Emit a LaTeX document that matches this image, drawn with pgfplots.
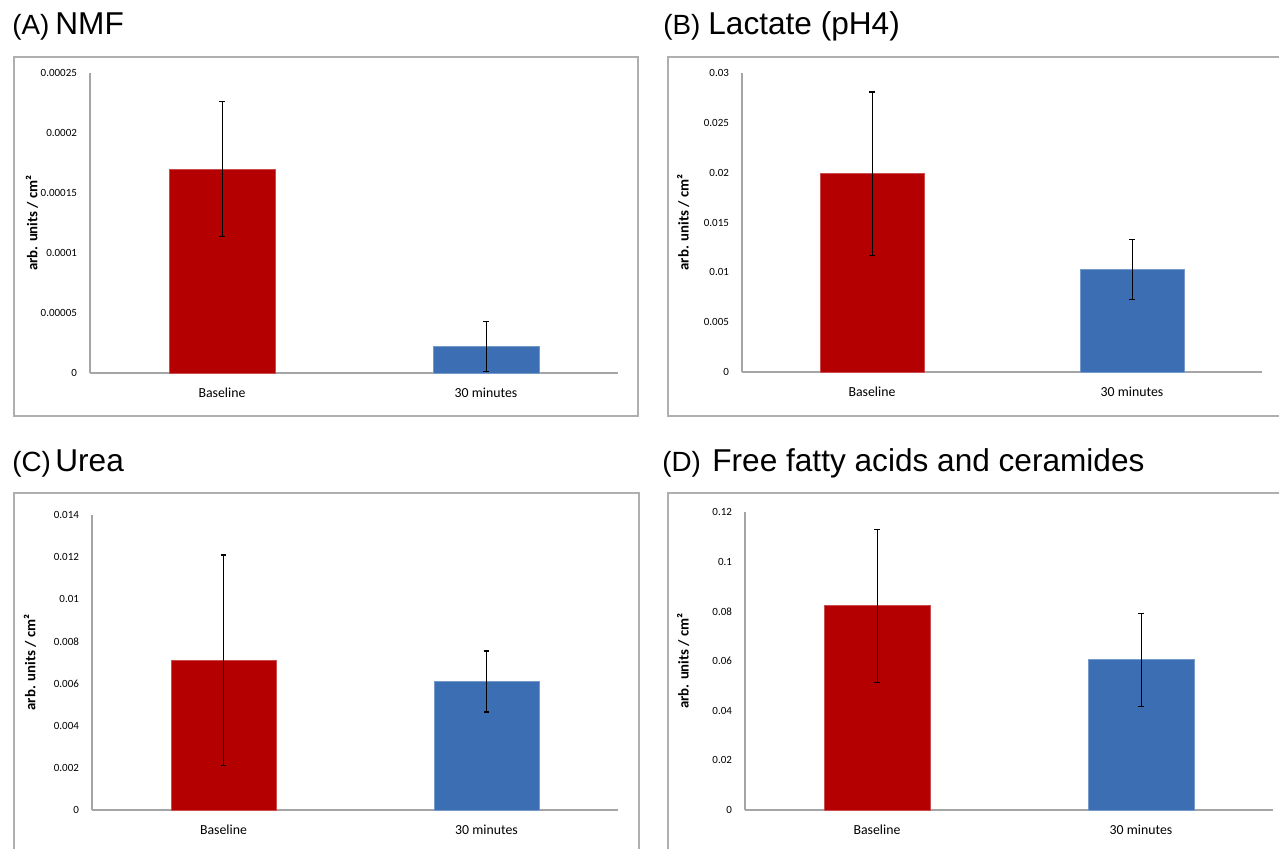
\documentclass[border=0pt]{standalone}
\usepackage{fontspec}
\setmainfont{Carlito}
\newfontfamily\arialfont{Liberation Sans}
\usepackage{pgfplots}
\pgfplotsset{compat=1.18}
\definecolor{barred}{RGB}{180,0,0}
\definecolor{barblue}{RGB}{60,110,180}
\definecolor{framegray}{RGB}{175,175,175}
\definecolor{axisgray}{RGB}{165,165,165}

\pgfplotsset{
  panel/.style={
    scale only axis, xmin=0, xmax=2, ymin=0,
    axis x line=bottom, axis y line=left,
    axis line style={-, axisgray, line width=0.6pt},
    major tick length=0pt,
    scaled y ticks=false,
    xtick={0.5,1.5}, xticklabels={Baseline,30 minutes},
    xticklabel style={font=\fontsize{6.9}{8}\selectfont, yshift=-4pt},
    yticklabel style={font=\fontsize{5.5}{6.5}\selectfont, xshift=-3pt},
    ylabel={\textbf{arb. units / cm²}},
    ylabel style={font=\fontsize{7.4}{8}\selectfont, anchor=center},
    clip=false,
  },
  barplot/.style={ybar, bar width=0.4, bar shift=0pt, fill=#1, draw=#1!70!white, line width=0.3pt,
    error bars/.cd, y dir=both, y explicit,
    error bar style={black, line width=0.5pt},
    error mark=-,
    error mark options={rotate=90, black, mark size=1.3pt, line width=0.6pt}},
}

\begin{document}
\begin{tikzpicture}
\useasboundingbox (0,0) rectangle (639.5pt,424pt);

% frames
\draw[framegray, line width=0.7pt] (7pt,395.5pt) rectangle (319pt,216pt);
\draw[framegray, line width=0.7pt] (334pt,395.5pt) rectangle (645pt,216pt);
\draw[framegray, line width=0.7pt] (7pt,177.5pt) rectangle (319.5pt,-10pt);
\draw[framegray, line width=0.7pt] (334pt,177.5pt) rectangle (645pt,-10pt);

% titles
\node[anchor=base west, inner sep=0] at (6pt,406.5pt) {\arialfont\fontsize{13.9}{16}\selectfont (A)};
\node[anchor=base west, inner sep=0] at (27.5pt,406.5pt) {\arialfont\fontsize{15.8}{18}\selectfont NMF};
\node[anchor=base west, inner sep=0] at (331.5pt,406.5pt) {\arialfont\fontsize{13.9}{16}\selectfont (B)};
\node[anchor=base west, inner sep=0] at (354pt,406.5pt) {\arialfont\fontsize{15.8}{18}\selectfont Lactate (pH4)};
\node[anchor=base west, inner sep=0] at (6pt,188.5pt) {\arialfont\fontsize{13.9}{16}\selectfont (C)};
\node[anchor=base west, inner sep=0] at (27.5pt,188.5pt) {\arialfont\fontsize{15.8}{18}\selectfont Urea};
\node[anchor=base west, inner sep=0] at (331pt,188.5pt) {\arialfont\fontsize{13.9}{16}\selectfont (D)};
\node[anchor=base west, inner sep=0] at (356pt,188.5pt) {\arialfont\fontsize{15.8}{18}\selectfont Free fatty acids and ceramides};

% (A) NMF
\begin{axis}[panel, at={(45pt,237.5pt)}, anchor=origin, width=264pt, height=150pt,
  ymax=0.00025, ytick={0,0.00005,0.0001,0.00015,0.0002,0.00025},
  yticklabels={0,0.00005,0.0001,0.00015,0.0002,0.00025},
  ylabel style={at={(axis description cs:-0.110,0.5)}}]
\addplot[barplot=barred] coordinates {(0.5,0.00017) +- (0,0.000056)};
\addplot[barplot=barblue] coordinates {(1.5,0.000022) +- (0,0.000021)};
\end{axis}

% (B) Lactate
\begin{axis}[panel, at={(371pt,238pt)}, anchor=origin, width=260pt, height=149.5pt,
  ymax=0.03, ytick={0,0.005,0.01,0.015,0.02,0.025,0.03},
  yticklabels={0,0.005,0.01,0.015,0.02,0.025,0.03},
  ylabel style={at={(axis description cs:-0.113,0.5)}}]
\addplot[barplot=barred] coordinates {(0.5,0.0199) +- (0,0.0082)};
\addplot[barplot=barblue] coordinates {(1.5,0.0103) +- (0,0.0030)};
\end{axis}

% (C) Urea
\begin{axis}[panel, at={(46pt,19pt)}, anchor=origin, width=263pt, height=147.5pt,
  ymax=0.014, ytick={0,0.002,0.004,0.006,0.008,0.01,0.012,0.014},
  yticklabels={0,0.002,0.004,0.006,0.008,0.01,0.012,0.014},
  ylabel style={at={(axis description cs:-0.118,0.5)}}]
\addplot[barplot=barred] coordinates {(0.5,0.0071) +- (0,0.0050)};
\addplot[barplot=barblue] coordinates {(1.5,0.0061) +- (0,0.00145)};
\end{axis}

% (D) Free fatty acids and ceramides
\begin{axis}[panel, at={(372.5pt,19pt)}, anchor=origin, width=264pt, height=149pt,
  ymax=0.12, ytick={0,0.02,0.04,0.06,0.08,0.1,0.12},
  yticklabels={0,0.02,0.04,0.06,0.08,0.1,0.12},
  ylabel style={at={(axis description cs:-0.117,0.5)}}]
\addplot[barplot=barred] coordinates {(0.5,0.0823) +- (0,0.0308)};
\addplot[barplot=barblue] coordinates {(1.5,0.0605) +- (0,0.0187)};
\end{axis}
\end{tikzpicture}
\end{document}
